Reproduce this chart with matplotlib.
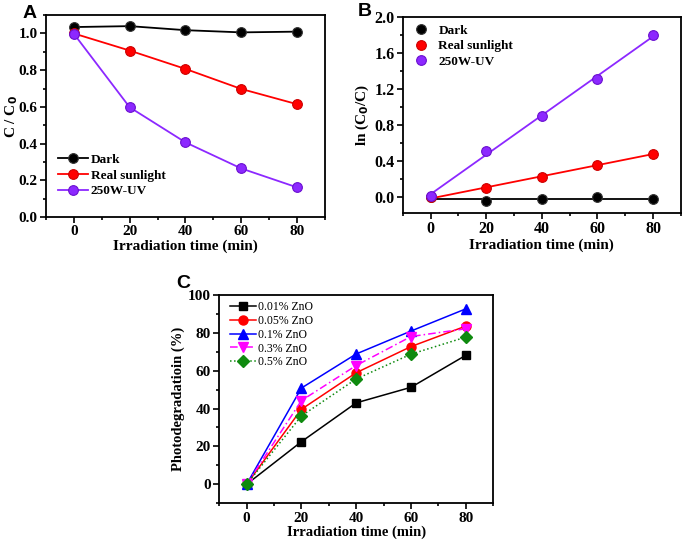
import numpy as np
import matplotlib
matplotlib.use("Agg")
import matplotlib.pyplot as plt
from matplotlib.ticker import MultipleLocator, FormatStrFormatter

plt.rcParams['font.family'] = ['Liberation Serif', 'DejaVu Serif']
plt.rcParams['font.weight'] = 'bold'

# Datos
t = [0, 20, 40, 60, 80]

# Panel A: C/C0
a_dark = [1.035, 1.04, 1.018, 1.006, 1.01]
a_sun = [1.0, 0.907, 0.807, 0.698, 0.615]
a_uv = [0.998, 0.598, 0.407, 0.265, 0.162]

# Panel B: ln(C0/C)
b_dark = [0.0, -0.048, -0.026, -0.004, -0.022]
b_sun = [-0.007, 0.096, 0.215, 0.355, 0.48]
b_uv = [0.01, 0.51, 0.893, 1.31, 1.80]

# Panel C: fotodegradacion (%)
c_labels = ['0.01% ZnO', '0.05% ZnO', '0.1% ZnO', '0.3% ZnO', '0.5% ZnO']
c_001 = [0, 22.5, 43.0, 51.2, 68.1]
c_005 = [0, 39.6, 58.9, 72.7, 83.5]
c_01 = [0, 50.8, 68.8, 80.9, 92.6]
c_03 = [0, 44.2, 62.7, 78.0, 82.1]
c_05 = [0, 36.1, 55.6, 68.7, 77.7]

purple = '#8C28FF'


def style_axes(ax, tsize=11.5):
    for s in ax.spines.values():
        s.set_linewidth(1.3)
    ax.tick_params(which='both', direction='out', top=False, right=False,
                   width=1.2, labelsize=tsize, pad=2)
    ax.tick_params(which='major', length=4)
    ax.tick_params(which='minor', length=2.5)
    ax.set_xlim(-10, 90)
    ax.xaxis.set_major_locator(MultipleLocator(20))
    ax.xaxis.set_minor_locator(MultipleLocator(10))
    for lab in ax.get_xticklabels() + ax.get_yticklabels():
        lab.set_fontweight('bold')
    ax.set_xlabel('Irradiation time (min)', fontsize=11, fontweight='bold', labelpad=1)


fig = plt.figure(figsize=(6.85, 5.4), dpi=100)

# --- A ---
axA = fig.add_axes([0.0672, 0.598, 0.407, 0.374])
mk = dict(marker='o', markersize=7, markeredgewidth=0.8, linewidth=1.3)
axA.plot(t, a_dark, color='black', markerfacecolor='black', markeredgecolor='#333333', label='Dark', **mk)
axA.plot(t, a_sun, color='red', markerfacecolor='red', markeredgecolor='#cc0000', label='Real sunlight', **mk)
axA.plot(t, a_uv, color=purple, markerfacecolor=purple, markeredgecolor='#6a10d0', label='250W-UV', **mk)
axA.set_ylim(0, 1.1)
axA.yaxis.set_major_locator(MultipleLocator(0.2))
axA.yaxis.set_minor_locator(MultipleLocator(0.1))
axA.yaxis.set_major_formatter(FormatStrFormatter('%.1f'))
axA.set_ylabel('C / C$_\\mathbf{0}$', fontsize=11, fontweight='bold')
style_axes(axA, tsize=11)
axA.yaxis.set_label_coords(-0.093, 0.5)
axA.legend(loc='lower left', bbox_to_anchor=(0.0, 0.04), frameon=False,
           prop={'weight': 'bold', 'size': 9.5}, handlelength=2.3,
           handletextpad=0.2, labelspacing=0.25)
fig.text(0.033, 0.975, 'A', fontsize=14, fontweight='bold', family='Liberation Sans', va='center')

# --- B ---
axB = fig.add_axes([0.588, 0.6056, 0.406, 0.3635])
for y, col, ec, lab in [(b_dark, 'black', '#333333', 'Dark'),
                        (b_sun, 'red', '#cc0000', 'Real sunlight'),
                        (b_uv, purple, '#6a10d0', '250W-UV')]:
    k, b0 = np.polyfit(t, y, 1)
    xs = np.array([t[0], t[-1]])
    axB.plot(xs, k * xs + b0, color=col, linewidth=1.3)
    axB.plot(t, y, linestyle='none', marker='o', markersize=7, markerfacecolor=col,
             markeredgecolor=ec, markeredgewidth=0.8, label=lab)
axB.set_ylim(-0.18, 2.0)
axB.yaxis.set_major_locator(MultipleLocator(0.4))
axB.yaxis.set_minor_locator(MultipleLocator(0.2))
axB.yaxis.set_major_formatter(FormatStrFormatter('%.1f'))
axB.set_ylabel('ln (C$_\\mathbf{0}$/C)', fontsize=11, fontweight='bold', labelpad=2)
style_axes(axB)
axB.legend(loc='upper left', bbox_to_anchor=(0.0, 1.02), frameon=False,
           prop={'weight': 'bold', 'size': 9.5}, handlelength=1.0,
           handletextpad=0.8, labelspacing=0.25)
fig.text(0.522, 0.978, 'B', fontsize=14, fontweight='bold', family='Liberation Sans', va='center')

# --- C ---
axC = fig.add_axes([0.320, 0.068, 0.400, 0.386])
green = '#0f8a0f'
axC.plot(t, c_001, color='black', marker='s', markersize=6, linewidth=1.1, label=c_labels[0])
axC.plot(t, c_005, color='red', marker='o', markersize=6.5, linewidth=1.1, label=c_labels[1])
axC.plot(t, c_01, color='blue', marker='^', markersize=7, linewidth=1.1, label=c_labels[2])
axC.plot(t, c_03, color='magenta', marker='v', markersize=7, linewidth=1.1,
         linestyle=(0, (5, 2, 1, 2)), label=c_labels[3])
axC.plot(t, c_05, color=green, marker='D', markersize=6, linewidth=1.1,
         linestyle=':', label=c_labels[4])
axC.set_ylim(-10, 100)
axC.yaxis.set_major_locator(MultipleLocator(20))
axC.yaxis.set_minor_locator(MultipleLocator(10))
axC.set_ylabel('Photodegradatioin (%)', fontsize=10.5, fontweight='bold', labelpad=2)
style_axes(axC, tsize=11)
axC.xaxis.label.set_fontsize(10.5)
axC.legend(loc='upper left', bbox_to_anchor=(0.0, 1.02), frameon=False,
           prop={'weight': 'normal', 'size': 8.5}, handlelength=2.2,
           handletextpad=0.2, labelspacing=0.15)
fig.text(0.258, 0.475, 'C', fontsize=14, fontweight='bold', family='Liberation Sans', va='center')

fig.savefig('out.png', dpi=100)
